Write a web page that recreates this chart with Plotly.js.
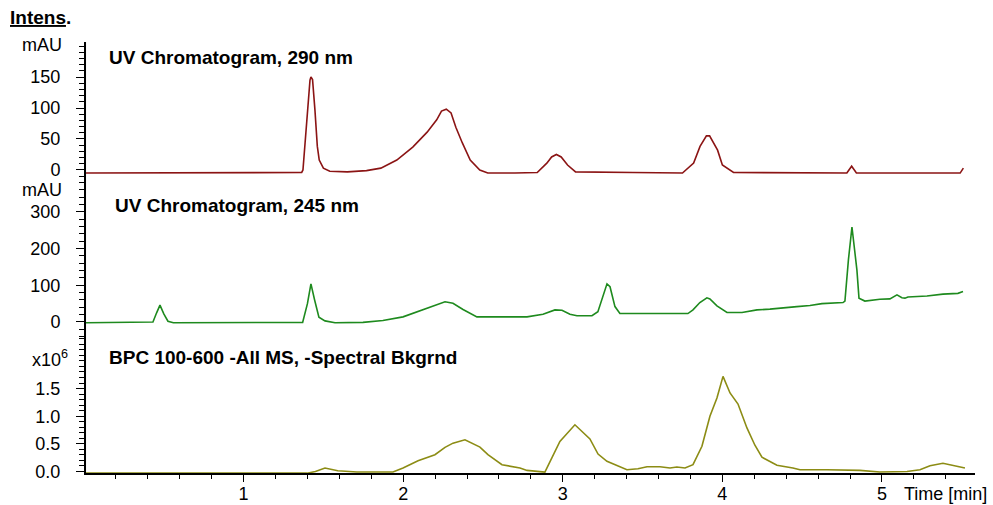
<!DOCTYPE html>
<html>
<head>
<meta charset="utf-8">
<script src="https://cdn.plot.ly/plotly-3.0.1.min.js"></script>
<style>html,body{margin:0;padding:0;background:#fff;}#chart{width:993px;height:505px;}</style>
</head>
<body>
<div id="chart"></div>
<script>
// UV Chromatogram, 290 nm (mAU)
var t290 = [0.01, 0.5, 1.0, 1.34, 1.364, 1.372, 1.395, 1.416, 1.422, 1.432, 1.447, 1.462, 1.474, 1.50, 1.54, 1.65, 1.77, 1.86, 1.96, 2.06, 2.15, 2.21, 2.24, 2.27, 2.30, 2.33, 2.37, 2.42, 2.48, 2.53, 2.70, 2.84, 2.90, 2.93, 2.96, 2.99, 3.03, 3.08, 3.44, 3.75, 3.82, 3.86, 3.90, 3.92, 3.97, 4.00, 4.07, 4.5, 4.78, 4.81, 4.84, 5.2, 5.49, 5.51];
var v290 = [-5, -5, -5, -5, -4, 0, 80, 145, 150, 146, 97, 38, 16, 3, -2, -3, -1, 3, 16, 37, 61, 81, 95, 98, 92, 69, 44, 16, 0, -5, -5, -4, 11, 21, 25, 21, 8, -3, -4, -5, 11, 38, 55, 55, 32, 8, -4, -5, -5, 6, -5, -5, -5, 3];

// UV Chromatogram, 245 nm (mAU)
var t245 = [0.01, 0.40, 0.432, 0.455, 0.476, 0.50, 0.526, 0.56, 1.0, 1.36, 1.37, 1.40, 1.422, 1.445, 1.472, 1.51, 1.573, 1.748, 1.873, 1.999, 2.105, 2.187, 2.262, 2.312, 2.375, 2.462, 2.776, 2.876, 2.951, 2.995, 3.045, 3.089, 3.183, 3.22, 3.252, 3.277, 3.296, 3.327, 3.358, 3.609, 3.784, 3.816, 3.859, 3.903, 3.922, 3.966, 4.029, 4.123, 4.217, 4.298, 4.38, 4.467, 4.549, 4.624, 4.756, 4.768, 4.79, 4.812, 4.843, 4.856, 4.893, 4.987, 5.05, 5.094, 5.125, 5.144, 5.163, 5.282, 5.382, 5.476, 5.508];
var v245 = [-2, -2, 0, 25, 46, 22, 2, -2, -2, -2, -1, 50, 104, 60, 13, 3, -2, -1, 4, 14, 31, 44, 55, 51, 34, 14, 14, 21, 33, 32, 21, 17, 17, 28, 69, 104, 96, 42, 23, 23, 23, 33, 53, 66, 63, 44, 26, 26, 33, 35, 39, 42, 45, 50, 53, 57, 170, 259, 142, 65, 57, 62, 63, 74, 66, 65, 68, 71, 76, 78, 83];

// BPC 100-600 -All MS (x10^6)
var tBPC = [0.01, 1.0, 1.397, 1.45, 1.51, 1.59, 1.71, 1.936, 1.999, 2.093, 2.199, 2.262, 2.312, 2.387, 2.481, 2.531, 2.619, 2.732, 2.776, 2.888, 2.982, 3.076, 3.17, 3.221, 3.277, 3.402, 3.471, 3.528, 3.609, 3.672, 3.715, 3.766, 3.816, 3.872, 3.922, 3.966, 4.004, 4.048, 4.098, 4.154, 4.204, 4.248, 4.342, 4.442, 4.486, 4.655, 4.862, 4.987, 5.157, 5.238, 5.301, 5.382, 5.445, 5.52];
var vBPC = [-0.03, -0.03, -0.03, 0.0, 0.063, 0.015, -0.01, -0.01, 0.063, 0.195, 0.304, 0.436, 0.513, 0.573, 0.442, 0.304, 0.123, 0.063, 0.02, -0.01, 0.545, 0.845, 0.588, 0.316, 0.184, 0.033, 0.05, 0.087, 0.087, 0.063, 0.08, 0.063, 0.123, 0.456, 0.998, 1.33, 1.72, 1.42, 1.22, 0.788, 0.475, 0.258, 0.112, 0.063, 0.033, 0.033, 0.02, -0.01, 0.0, 0.033, 0.105, 0.148, 0.105, 0.063];

var xTicks = [1, 2, 3, 4, 5];
var xTickText = ['1', '2', '3', '4', '5'];
var y1Ticks = [0, 50, 100, 150];
var y2Ticks = [0, 100, 200, 300];
var y3Ticks = [0, 0.5, 1.0, 1.5];
var y3TickText = ['0.0', '0.5', '1.0', '1.5'];

var FONT = 'Liberation Sans, Arial, Helvetica, sans-serif';

var traces = [
  {x: t290, y: v290, xaxis: 'x', yaxis: 'y', type: 'scatter', mode: 'lines',
   line: {color: '#8b1414', width: 1.6}, hoverinfo: 'skip'},
  {x: t245, y: v245, xaxis: 'x', yaxis: 'y2', type: 'scatter', mode: 'lines',
   line: {color: '#1e8a1e', width: 1.6}, hoverinfo: 'skip'},
  {x: tBPC, y: vBPC, xaxis: 'x', yaxis: 'y3', type: 'scatter', mode: 'lines',
   line: {color: '#8c8c14', width: 1.6}, hoverinfo: 'skip'}
];

function yax(domain, range, tickvals, ticktext, md) {
  var a = {
    domain: domain, range: range, anchor: 'x',
    showgrid: false, zeroline: false,
    showline: true, linecolor: 'black', linewidth: 2,
    ticks: 'outside', ticklen: 8, tickcolor: 'black',
    tickmode: 'array', tickvals: tickvals,
    ticklabelstandoff: 12,
    tickfont: {family: FONT, size: 18, color: 'black'},
    minor: {dtick: md, ticks: 'outside', ticklen: 5, tickcolor: 'black'}
  };
  if (ticktext) a.ticktext = ticktext;
  return a;
}

var layout = {
  width: 993, height: 505,
  margin: {l: 86, r: 18, t: 42, b: 32},
  showlegend: false,
  font: {family: FONT, size: 18, color: 'black'},
  xaxis: {
    range: [0.0125, 5.583], anchor: 'y3',
    showgrid: false, zeroline: false,
    showline: true, linecolor: 'black', linewidth: 2,
    ticks: 'outside', ticklen: 7, tickcolor: 'black',
    tickmode: 'array', tickvals: xTicks, ticktext: xTickText,
    ticklabelstandoff: -4,
    tickfont: {family: FONT, size: 18, color: 'black'},
    minor: {dtick: 0.2, tick0: 0, ticks: 'outside', ticklen: 4, tickwidth: 1, tickcolor: 'black', showgrid: false}
  },
  yaxis: yax([0.6729, 1], [-21, 206.5], y1Ticks, null, 10),
  yaxis2: yax([0.3155, 0.6729], [-41, 379], y2Ticks, null, 20),
  yaxis3: yax([0, 0.3155], [-0.027, 2.432], y3Ticks, y3TickText, 0.1),
  shapes: [
    {type: 'line', xref: 'paper', yref: 'paper', x0: -0.0011, x1: -0.0011, y0: -0.0023, y1: 1, line: {color: 'black', width: 2}, layer: 'above'},
    {type: 'line', xref: 'paper', yref: 'paper', x0: -0.0011, x1: 1, y0: -0.0023, y1: -0.0023, line: {color: 'black', width: 2}, layer: 'above'}
  ],
  annotations: [
    {text: '<b><u>Intens</u>.</b>', xref: 'paper', yref: 'paper', x: -0.0877, y: 1.056, xanchor: 'left', yanchor: 'middle', showarrow: false, font: {family: FONT, size: 19, color: 'black'}},
    {text: 'mAU', xref: 'paper', yref: 'paper', x: -0.0247, y: 0.993, xanchor: 'right', yanchor: 'middle', showarrow: false, font: {family: FONT, size: 18, color: 'black'}},
    {text: 'mAU', xref: 'paper', yref: 'paper', x: -0.0247, y: 0.6566, xanchor: 'right', yanchor: 'middle', showarrow: false, font: {family: FONT, size: 18, color: 'black'}},
    {text: 'x10<sup>6</sup>', xref: 'paper', yref: 'paper', x: -0.018, y: 0.2668, xanchor: 'right', yanchor: 'middle', showarrow: false, font: {family: FONT, size: 18, color: 'black'}},
    {text: '<b>UV Chromatogram, 290 nm</b>', xref: 'paper', yref: 'paper', x: 0.0236, y: 0.963, xanchor: 'left', yanchor: 'middle', showarrow: false, font: {family: FONT, size: 19, color: 'black'}},
    {text: '<b>UV Chromatogram, 245 nm</b>', xref: 'paper', yref: 'paper', x: 0.0304, y: 0.6195, xanchor: 'left', yanchor: 'middle', showarrow: false, font: {family: FONT, size: 19, color: 'black'}},
    {text: '<b>BPC 100-600 -All MS, -Spectral Bkgrnd</b>', xref: 'paper', yref: 'paper', x: 0.0236, y: 0.269, xanchor: 'left', yanchor: 'middle', showarrow: false, font: {family: FONT, size: 19, color: 'black'}},
    {text: 'Time [min]', xref: 'paper', yref: 'paper', x: 0.918, y: -0.0487, xanchor: 'left', yanchor: 'middle', showarrow: false, font: {family: FONT, size: 18, color: 'black'}}
  ]
};

Plotly.newPlot('chart', traces, layout, {displayModeBar: false});
</script>
</body>
</html>
